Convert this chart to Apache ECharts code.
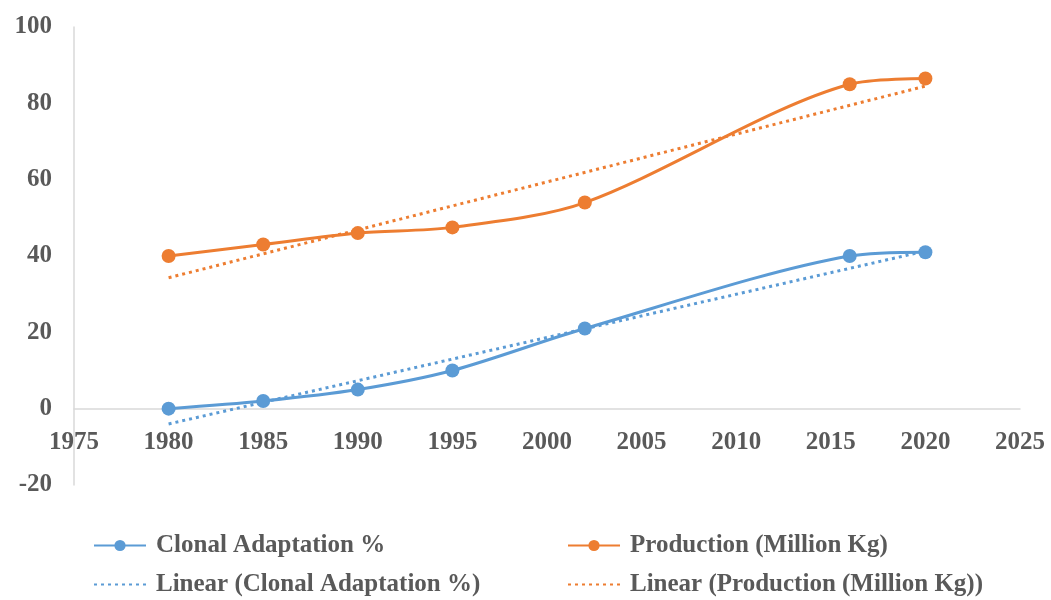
<!DOCTYPE html>
<html>
<head>
<meta charset="utf-8">
<script src="https://cdn.jsdelivr.net/npm/echarts@6/dist/echarts.min.js"></script>
<style>
  html, body { margin: 0; padding: 0; background: #ffffff; }
  #chart { width: 1051px; height: 600px; }
</style>
</head>
<body>
<div id="chart"></div>
<script>
// Survey years and observed values
const years = [1980, 1985, 1990, 1995, 2002, 2016, 2020];
const clonalAdaptation = [0, 2, 5, 10, 21, 40, 41];
const production = [40, 43, 46, 47.5, 54, 85, 86.5];

// Linear trend lines, given by their end points (1980 and 2020)
const trendYears = [1980, 2020];
const clonalTrend = [-4, 41.3];
const productionTrend = [34.3, 84.5];

const seriesNames = [
  'Clonal Adaptation %',
  'Production (Million Kg)',
  'Linear (Clonal Adaptation %)',
  'Linear (Production (Million Kg))'
];

const BLUE = '#5b9bd5';
const ORANGE = '#ed7d31';
const TEXT = '#595959';
const FONT = 'Liberation Serif';

// Plot area geometry
const GRID = { left: 74, right: 31, top: 27, bottom: 115 };
const Y_MIN = -20, Y_MAX = 100;
const plotHeight = 600 - GRID.top - GRID.bottom;
// lift the x axis (line and labels) up to y = 0
const xAxisOffset = -plotHeight * (0 - Y_MIN) / (Y_MAX - Y_MIN);

const pairs = (xs, ys) => xs.map((x, i) => [x, ys[i]]);

const legendText = { color: TEXT, fontFamily: FONT, fontWeight: 'bold', fontSize: 25, padding: [0, 0, 0, 5] };
const makeLegend = (name, left, top, hideSymbol) => {
  const legend = {
    data: [name],
    left: left,
    top: top,
    padding: 0,
    itemWidth: 52,
    itemHeight: 14,
    selectedMode: false,
    textStyle: legendText
  };
  if (hideSymbol) legend.itemStyle = { opacity: 0 };
  return legend;
};

const chart = echarts.init(document.getElementById('chart'), null, { renderer: 'canvas' });

chart.setOption({
  animation: false,
  backgroundColor: '#ffffff',
  grid: GRID,
  legend: [
    makeLegend(seriesNames[0], 93, 533, false),
    makeLegend(seriesNames[1], 567, 533, false),
    makeLegend(seriesNames[2], 93, 572, true),
    makeLegend(seriesNames[3], 567, 572, true)
  ],
  xAxis: {
    type: 'value',
    min: 1975,
    max: 2025,
    interval: 5,
    position: 'bottom',
    offset: xAxisOffset,
    axisLine: { onZero: false, lineStyle: { color: '#d9d9d9', width: 1.5 } },
    axisTick: { show: false },
    splitLine: { show: false },
    axisLabel: {
      color: TEXT, fontFamily: FONT, fontWeight: 'bold', fontSize: 25, margin: 21,
      formatter: v => String(v)
    }
  },
  yAxis: {
    type: 'value',
    min: Y_MIN,
    max: Y_MAX,
    interval: 20,
    axisLine: { show: true, onZero: false, lineStyle: { color: '#d9d9d9', width: 1.5 } },
    axisTick: { show: false },
    splitLine: { show: false },
    axisLabel: { color: TEXT, fontFamily: FONT, fontWeight: 'bold', fontSize: 25, margin: 22 }
  },
  series: [
    {
      name: seriesNames[0],
      type: 'line',
      data: pairs(years, clonalAdaptation),
      smooth: 0.3,
      symbol: 'circle',
      symbolSize: 14,
      color: BLUE,
      lineStyle: { color: BLUE, width: 3 },
      itemStyle: { color: BLUE },
      z: 3
    },
    {
      name: seriesNames[1],
      type: 'line',
      data: pairs(years, production),
      smooth: 0.3,
      symbol: 'circle',
      symbolSize: 14,
      color: ORANGE,
      lineStyle: { color: ORANGE, width: 3 },
      itemStyle: { color: ORANGE },
      z: 3
    },
    {
      name: seriesNames[2],
      type: 'line',
      data: pairs(trendYears, clonalTrend),
      symbol: 'none',
      color: BLUE,
      lineStyle: { color: BLUE, width: 3, type: [3, 4] },
      z: 2
    },
    {
      name: seriesNames[3],
      type: 'line',
      data: pairs(trendYears, productionTrend),
      symbol: 'none',
      color: ORANGE,
      lineStyle: { color: ORANGE, width: 3, type: [3, 4] },
      z: 2
    }
  ]
});
</script>
</body>
</html>
